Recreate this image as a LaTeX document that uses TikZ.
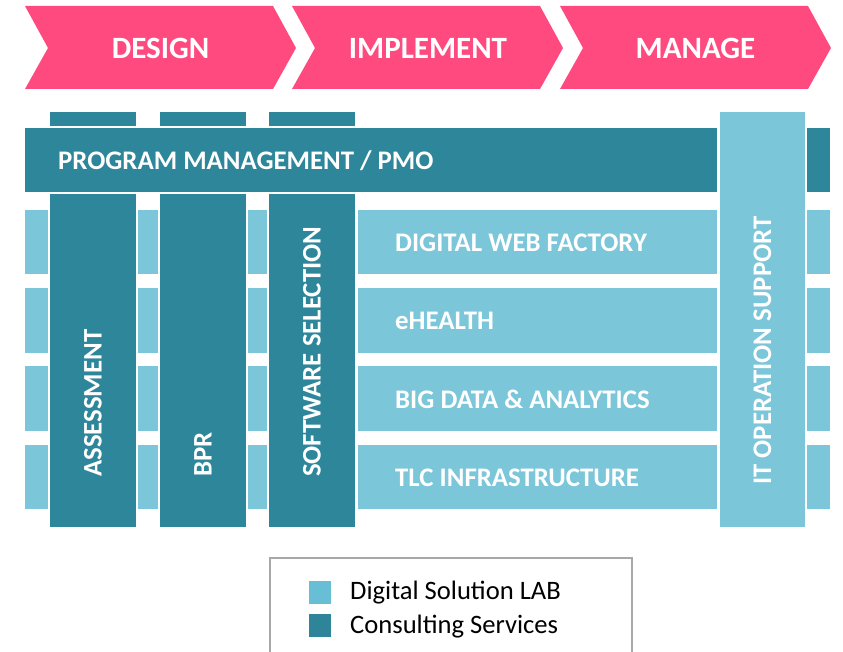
\documentclass[tikz,border=0pt]{standalone}
\usepackage{fontspec}
\setmainfont{Carlito}
\definecolor{pinkc}{HTML}{FF4A80}
\definecolor{darkc}{HTML}{2E869B}
\definecolor{lightc}{HTML}{7CC6DA}
\definecolor{legl}{HTML}{68BED4}
\definecolor{legd}{HTML}{2E859A}
\definecolor{legborder}{HTML}{A8A8A8}
\begin{document}
\begin{tikzpicture}[x=1pt,y=-1pt,
  chev/.style={fill=pinkc},
  lightbox/.style={fill=lightc},
  darkbox/.style={fill=darkc},
  chevtext/.style={text=white,font=\fontsize{31}{31}\selectfont\bfseries,inner sep=0pt},
  rowtext/.style={text=white,font=\fontsize{26.8}{26.8}\selectfont\bfseries,inner sep=0pt,anchor=west},
  vtext/.style={text=white,font=\fontsize{26.8}{26.8}\selectfont\bfseries,inner sep=0pt,rotate=90,anchor=west},
  legtext/.style={font=\fontsize{26.6}{26.6}\selectfont,inner sep=0pt,anchor=west}]
\useasboundingbox (0,0) rectangle (843,652);
% chevrons
\fill[chev] (25,6) -- (273,6) -- (296,48) -- (273,89) -- (25,89) -- (48,48) -- cycle;
\fill[chev] (292,6) -- (540,6) -- (563,48) -- (540,89) -- (292,89) -- (315,48) -- cycle;
\fill[chev] (560,6) -- (808,6) -- (831,48) -- (808,89) -- (560,89) -- (583,48) -- cycle;
\node[chevtext] (design) at (160.5,48) {DESIGN};
\node[chevtext] (implement) at (428,48) {IMPLEMENT};
\node[chevtext] (manage) at (695.5,48) {MANAGE};
% light rows
\foreach \ya/\yb in {210/274, 288/353, 366/431, 445/509} {
  \fill[lightbox] (25,\ya) rectangle (48,\yb);
  \fill[lightbox] (138,\ya) rectangle (158,\yb);
  \fill[lightbox] (248,\ya) rectangle (267,\yb);
  \fill[lightbox] (358,\ya) rectangle (717,\yb);
  \fill[lightbox] (807,\ya) rectangle (830,\yb);
}
% tabs and PMO
\foreach \xa/\xb in {50/136, 160/246, 269/355} {
  \fill[darkbox] (\xa,112) rectangle (\xb,126);
  \fill[darkbox] (\xa,194) rectangle (\xb,527);
}
\fill[darkbox] (25,128) rectangle (717,192);
\fill[darkbox] (807,128) rectangle (830,192);
% IT column
\fill[lightbox] (720,112) rectangle (805,527);
% texts
\node[rowtext] (pmo) at (58,161) {PROGRAM MANAGEMENT / PMO};
\node[rowtext] (dwf) at (395,242.5) {DIGITAL WEB FACTORY};
\node[rowtext] (ehealth) at (395,321) {eHEALTH};
\node[rowtext] (bigdata) at (395,399) {BIG DATA \& ANALYTICS};
\node[rowtext] (tlc) at (395,477.5) {TLC INFRASTRUCTURE};
\node[vtext] (assess) at (93,477) {ASSESSMENT};
\node[vtext] (bpr) at (203,477) {BPR};
\node[vtext] (sws) at (312,477) {SOFTWARE SELECTION};
\node[vtext] (itops) at (762.5,485) {IT OPERATION SUPPORT};
% legend
\draw[legborder,line width=2pt] (270,660) -- (270,558) -- (632,558) -- (632,660);
\fill[legl] (309,581) rectangle (331,604);
\fill[legd] (309,614) rectangle (331,637);
\node[legtext] (ldsl) at (350,592.5) {Digital Solution LAB};
\node[legtext] (lcs) at (350,626.5) {Consulting Services};
\end{tikzpicture}
\end{document}
